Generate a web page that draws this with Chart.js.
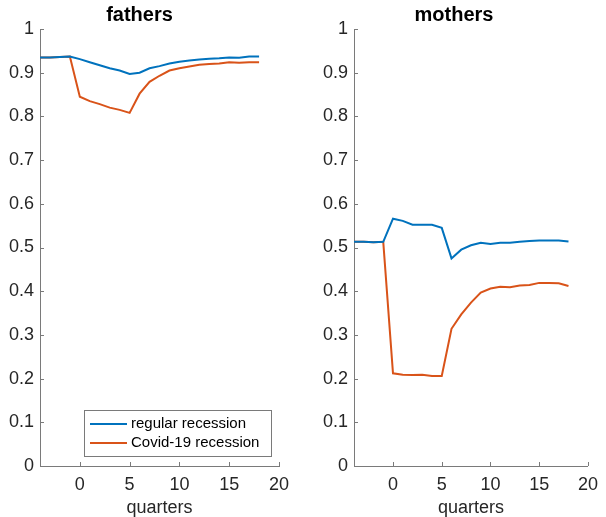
<!DOCTYPE html>
<html>
<head>
<meta charset="utf-8">
<script src="https://cdn.jsdelivr.net/npm/chart.js@4.4.0/dist/chart.umd.min.js"></script>
<style>
  body { margin: 0; background: #fff; }
  #wrap { position: relative; width: 606px; height: 517px; }
  .panel { position: absolute; top: 0; height: 517px; }
  #fathers { left: 0; width: 300px; }
  #mothers { left: 314px; width: 292px; }
</style>
</head>
<body>
<div id="wrap">
  <div class="panel" id="fathers"><canvas></canvas></div>
  <div class="panel" id="mothers"><canvas></canvas></div>
</div>
<script>
// quarters relative to the start of the recession
const quarters = [-4, -3, -2, -1, 0, 1, 2, 3, 4, 5, 6, 7, 8, 9, 10, 11, 12, 13, 14, 15, 16, 17, 18];
const xTickValues = [0, 5, 10, 15, 20];

const fathersRegular = [0.935, 0.935, 0.936, 0.937, 0.931, 0.924, 0.917, 0.910, 0.905, 0.897, 0.900, 0.910,
  0.915, 0.921, 0.925, 0.928, 0.930, 0.932, 0.933, 0.935, 0.934, 0.937, 0.937];
const fathersCovid = [0.935, 0.935, 0.936, 0.937, 0.845, 0.835, 0.828, 0.820, 0.815, 0.808, 0.852, 0.879,
  0.893, 0.905, 0.910, 0.914, 0.918, 0.920, 0.921, 0.924, 0.923, 0.924, 0.924];

const mothersRegular = [0.513, 0.513, 0.512, 0.513, 0.566, 0.561, 0.552, 0.552, 0.552, 0.545, 0.475, 0.495,
  0.505, 0.511, 0.508, 0.511, 0.511, 0.513, 0.515, 0.516, 0.516, 0.516, 0.514];
const mothersCovid = [0.513, 0.513, 0.512, 0.513, 0.212, 0.209, 0.208, 0.209, 0.206, 0.206, 0.314, 0.347,
  0.374, 0.397, 0.406, 0.410, 0.409, 0.413, 0.414, 0.419, 0.419, 0.418, 0.412];

const seriesNames = ["regular recession", "Covid-19 recession"];
const seriesColors = ["#0072BD", "#D95319"];

const FONT = "'Liberation Sans', Arial, Helvetica, sans-serif";
const AXIS_GREY = "#7a7a7a";

// petits traits de graduation vers l'intérieur (style MATLAB)
const inwardTicks = {
  id: "inwardTicks",
  afterDraw(chart) {
    const { ctx, chartArea, scales } = chart;
    ctx.save();
    ctx.strokeStyle = AXIS_GREY;
    ctx.lineWidth = 1;
    ctx.beginPath();
    scales.x.ticks.forEach((t) => {
      const px = Math.round(scales.x.getPixelForValue(t.value)) + 0.5;
      ctx.moveTo(px, chartArea.bottom);
      ctx.lineTo(px, chartArea.bottom - 4);
    });
    scales.y.ticks.forEach((t) => {
      const py = Math.round(scales.y.getPixelForValue(t.value)) + 0.5;
      ctx.moveTo(chartArea.left, py);
      ctx.lineTo(chartArea.left + 4, py);
    });
    ctx.stroke();
    ctx.restore();
  },
};

// légende dans le coin bas du premier graphique
const boxLegend = {
  id: "boxLegend",
  afterDraw(chart, args, opts) {
    if (!opts.show) return;
    const { ctx } = chart;
    const x = opts.x, y = opts.y, w = opts.w, h = opts.h;
    ctx.save();
    ctx.fillStyle = "#fff";
    ctx.fillRect(x, y, w, h);
    ctx.strokeStyle = AXIS_GREY;
    ctx.lineWidth = 1;
    ctx.strokeRect(x + 0.5, y + 0.5, w, h);
    ctx.font = "15px " + FONT;
    ctx.textBaseline = "middle";
    chart.data.datasets.forEach((ds, i) => {
      const ry = y + 14 + i * 19;
      ctx.strokeStyle = ds.borderColor;
      ctx.lineWidth = 2;
      ctx.beginPath();
      ctx.moveTo(x + 6, ry);
      ctx.lineTo(x + 43, ry);
      ctx.stroke();
      ctx.fillStyle = "#000";
      ctx.fillText(ds.label, x + 47, ry);
    });
    ctx.restore();
  },
};

function makePanel(el, title, regular, covid, rightPad, withLegend) {
  const toPoints = (vals) => quarters.map((q, i) => ({ x: q, y: vals[i] }));
  return new Chart(el.querySelector("canvas"), {
    type: "line",
    data: {
      datasets: [
        { label: seriesNames[0], data: toPoints(regular), borderColor: seriesColors[0] },
        { label: seriesNames[1], data: toPoints(covid), borderColor: seriesColors[1] },
      ],
    },
    options: {
      responsive: true,
      maintainAspectRatio: false,
      animation: false,
      layout: { padding: { left: 0, right: rightPad, top: 0, bottom: 0 } },
      elements: {
        line: { borderWidth: 2, tension: 0, fill: false },
        point: { radius: 0 },
      },
      plugins: {
        legend: { display: false },
        tooltip: { enabled: false },
        title: {
          display: true,
          text: title,
          color: "#000",
          font: { family: FONT, size: 20, weight: "bold" },
          padding: { top: 3, bottom: 2 },
        },
        boxLegend: { show: withLegend, x: 84, y: 410, w: 187, h: 46 },
      },
      scales: {
        x: {
          type: "linear",
          min: -4,
          max: 20,
          afterBuildTicks: (s) => { s.ticks = xTickValues.map((v) => ({ value: v })); },
          ticks: {
            color: "#262626",
            padding: 8,
            font: { family: FONT, size: 18 },
          },
          grid: { display: false, drawTicks: false },
          border: { display: true, color: AXIS_GREY, width: 1 },
          title: {
            display: true,
            text: "quarters",
            color: "#262626",
            padding: { top: 0, bottom: 0 },
            font: { family: FONT, size: 18, lineHeight: 1 },
          },
          afterFit: (s) => { s.height = 51; },
        },
        y: {
          min: 0,
          max: 1,
          ticks: {
            stepSize: 0.1,
            color: "#262626",
            padding: 6,
            font: { family: FONT, size: 18 },
            callback: (v) => String(Number(v.toFixed(1))),
          },
          grid: { display: false, drawTicks: false },
          border: { display: true, color: AXIS_GREY, width: 1 },
          afterFit: (s) => { s.width = 40; },
        },
      },
    },
    plugins: [inwardTicks, boxLegend],
  });
}

makePanel(document.querySelector("#fathers"), "fathers", fathersRegular, fathersCovid, 21, true);
makePanel(document.querySelector("#mothers"), "mothers", mothersRegular, mothersCovid, 12, false);
</script>
</body>
</html>
